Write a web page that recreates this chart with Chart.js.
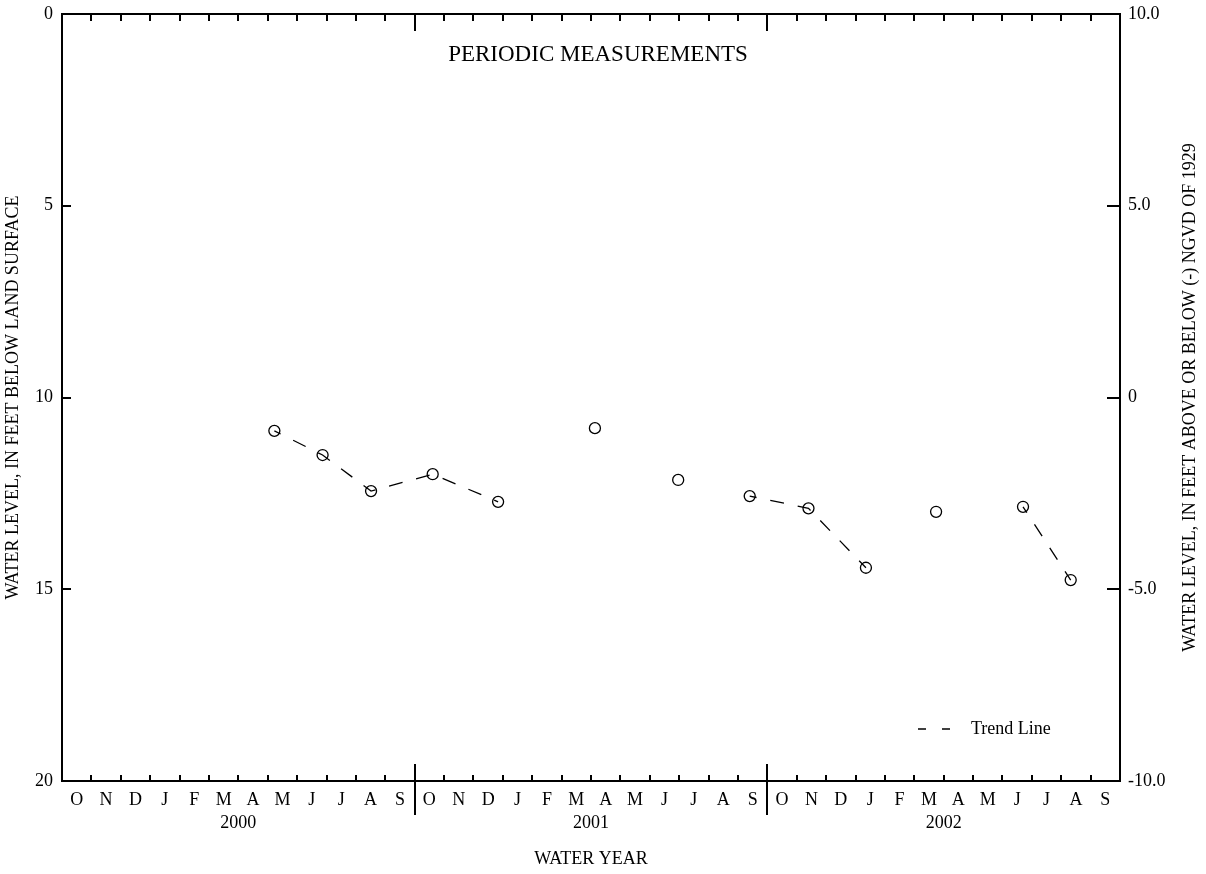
<!DOCTYPE html>
<html>
<head>
<meta charset="utf-8">
<script src="https://cdn.jsdelivr.net/npm/chart.js@4.4.0/dist/chart.umd.min.js"></script>
<style>
  html, body { margin: 0; padding: 0; background: #fff; }
  #wrap { width: 1206px; height: 874px; position: relative; }
</style>
</head>
<body>
<div id="wrap"><canvas id="chart"></canvas></div>
<script>
// Water years 2000-2002, months Oct..Sep
const monthLabels = ['O','N','D','J','F','M','A','M','J','J','A','S',
                     'O','N','D','J','F','M','A','M','J','J','A','S',
                     'O','N','D','J','F','M','A','M','J','J','A','S'];
const waterYears = ['2000', '2001', '2002'];

// Periodic measurements (feet below land surface)
const measureDates = ['2000-05-08','2000-06-27','2000-08-17','2000-10-20','2000-12-27',
                      '2001-04-05','2001-06-30','2001-09-13','2001-11-13','2002-01-12',
                      '2002-03-24','2002-06-22','2002-08-11'];
const waterLevels = [10.87, 11.50, 12.44, 12.00, 12.72,
                     10.80, 12.15, 12.57, 12.89, 14.44,
                     12.98, 12.85, 14.76];
// trend line is broken after these measurement indexes
const trendBreaksAfter = [4, 5, 6, 9, 10];

const leftTicks = [0, 5, 10, 15, 20];
const rightTicks = [10, 5, 0, -5, -10];
const rightTickLabels = ['10.0', '5.0', '0', '-5.0', '-10.0'];

const FONT = '"Liberation Serif", "Times New Roman", serif';

// month position counted from Oct 1 1999
function monthPos(dateStr) {
    const [yr, mo, dy] = dateStr.split('-').map(Number);
    const idx = (yr - 1999) * 12 + (mo - 10);
    const days = new Date(yr, mo, 0).getDate();
    return idx + (dy - 1) / days;
}

const points = measureDates.map((d, i) => ({ x: monthPos(d), y: waterLevels[i] }));
const trend = [];
points.forEach((p, i) => {
    trend.push(p);
    if (trendBreaksAfter.includes(i) && i < points.length - 1) {
        trend.push({ x: (p.x + points[i + 1].x) / 2, y: null });
    }
});

const framePlugin = {
    id: 'frameAndTicks',
    afterDraw(chart) {
        const { ctx, chartArea, scales } = chart;
        const { left, right, top, bottom } = chartArea;
        ctx.save();
        ctx.strokeStyle = '#000';
        ctx.lineWidth = 2;
        ctx.strokeRect(left, top, right - left, bottom - top);

        ctx.beginPath();
        for (let m = 1; m < monthLabels.length; m++) {
            const px = Math.round(scales.x.getPixelForValue(m));
            if (m % 12 === 0) {
                ctx.moveTo(px, top); ctx.lineTo(px, top + 17);
                ctx.moveTo(px, bottom - 17); ctx.lineTo(px, bottom + 34);
            } else {
                ctx.moveTo(px, top); ctx.lineTo(px, top + 7);
                ctx.moveTo(px, bottom); ctx.lineTo(px, bottom - 6);
            }
        }
        leftTicks.forEach(v => {
            const py = Math.round(scales.y.getPixelForValue(v));
            ctx.moveTo(left, py); ctx.lineTo(left + 9, py);
        });
        rightTicks.forEach(v => {
            const py = Math.round(scales.y2.getPixelForValue(v));
            ctx.moveTo(right, py); ctx.lineTo(right - 13, py);
        });
        ctx.stroke();

        // title inside plot
        ctx.fillStyle = '#000';
        ctx.font = '23px ' + FONT;
        ctx.textAlign = 'center';
        ctx.textBaseline = 'middle';
        ctx.fillText('PERIODIC MEASUREMENTS', (left + right) / 2 + 7, top + 41);

        // legend
        ctx.lineWidth = 1.5;
        ctx.setLineDash([8, 16]);
        ctx.beginPath();
        ctx.moveTo(918, 729); ctx.lineTo(953, 729);
        ctx.stroke();
        ctx.setLineDash([]);
        ctx.font = '18px ' + FONT;
        ctx.textAlign = 'left';
        ctx.fillText('Trend Line', 971, 729);

        // right axis title, reads bottom to top
        ctx.translate(1190, (top + bottom) / 2);
        ctx.rotate(-Math.PI / 2);
        ctx.textAlign = 'center';
        ctx.fillText('WATER LEVEL, IN FEET ABOVE OR BELOW (-) NGVD OF 1929', 0, 0);
        ctx.restore();
    }
};

// keep tick labels from pushing the plot area around
function noPad(scale) {
    scale.paddingTop = 0;
    scale.paddingBottom = 0;
    scale.paddingLeft = 0;
    scale.paddingRight = 0;
}

const ctx = document.getElementById('chart').getContext('2d');
new Chart(ctx, {
    type: 'line',
    data: {
        datasets: [{
            label: 'Periodic measurements',
            data: points,
            showLine: false,
            pointStyle: 'circle',
            pointRadius: 5.5,
            pointBorderWidth: 1.3,
            pointBorderColor: '#000',
            pointBackgroundColor: 'rgba(0,0,0,0)',
            yAxisID: 'y'
        }, {
            label: 'Trend Line',
            data: trend,
            borderColor: '#000',
            borderWidth: 1.3,
            borderDash: [14, 14],
            borderDashOffset: 7,
            pointRadius: 0,
            spanGaps: false,
            tension: 0,
            yAxisID: 'y'
        }]
    },
    options: {
        responsive: true,
        maintainAspectRatio: false,
        animation: false,
        layout: { padding: { top: 14, left: 0, right: 0, bottom: 0 } },
        plugins: {
            legend: { display: false },
            tooltip: { enabled: false },
            title: { display: false }
        },
        scales: {
            x: {
                type: 'linear',
                position: 'bottom',
                weight: 1,
                min: 0,
                max: monthLabels.length,
                grid: { display: false, drawTicks: false },
                border: { display: false },
                afterBuildTicks: scale => { scale.ticks = monthLabels.map((_, i) => ({ value: i + 0.5 })); },
                afterFit: scale => { scale.height = 30; noPad(scale); },
                ticks: {
                    autoSkip: false, maxRotation: 0, minRotation: 0, padding: 8,
                    color: '#000', font: { family: FONT, size: 18 },
                    callback: (v, i) => monthLabels[i]
                }
            },
            xYear: {
                type: 'linear',
                position: 'bottom',
                weight: 2,
                min: 0,
                max: monthLabels.length,
                grid: { display: false, drawTicks: false },
                border: { display: false },
                afterBuildTicks: scale => { scale.ticks = waterYears.map((_, i) => ({ value: i * 12 + 6 })); },
                afterFit: scale => { scale.height = 63; noPad(scale); },
                ticks: {
                    autoSkip: false, maxRotation: 0, minRotation: 0, padding: 1,
                    color: '#000', font: { family: FONT, size: 18 },
                    callback: (v, i) => waterYears[i]
                },
                title: {
                    display: true, text: 'WATER YEAR', color: '#000',
                    font: { family: FONT, size: 18 }, padding: { top: 12 }
                }
            },
            y: {
                type: 'linear',
                position: 'left',
                reverse: true,
                min: 0,
                max: 20,
                grid: { display: false, drawTicks: false },
                border: { display: false },
                afterBuildTicks: scale => { scale.ticks = leftTicks.map(v => ({ value: v })); },
                afterFit: scale => { scale.width = 62; noPad(scale); },
                ticks: { padding: 9, color: '#000', font: { family: FONT, size: 18 } },
                title: {
                    display: true, text: 'WATER LEVEL, IN FEET BELOW LAND SURFACE', color: '#000',
                    font: { family: FONT, size: 18 }, padding: { top: 2, bottom: 0 }
                }
            },
            y2: {
                type: 'linear',
                position: 'right',
                min: -10,
                max: 10,
                grid: { display: false, drawTicks: false },
                border: { display: false },
                afterBuildTicks: scale => { scale.ticks = rightTicks.map(v => ({ value: v })); },
                afterFit: scale => { scale.width = 86; noPad(scale); },
                ticks: {
                    padding: 8, color: '#000', font: { family: FONT, size: 18 },
                    callback: (v, i) => rightTickLabels[i]
                }
            }
        }
    },
    plugins: [framePlugin]
});
</script>
</body>
</html>
